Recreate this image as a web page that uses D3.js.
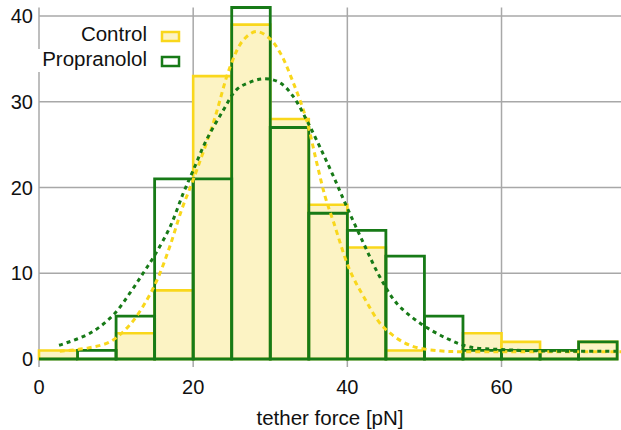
<!DOCTYPE html>
<html>
<head>
<meta charset="utf-8">
<script src="https://cdn.jsdelivr.net/npm/d3@7/dist/d3.min.js"></script>
<style>
  html, body { margin: 0; padding: 0; background: #fff; }
  svg { display: block; }
  text { font-family: "Liberation Sans", Arial, sans-serif; fill: #111; }
</style>
</head>
<body>
<svg id="chart" width="621" height="430"></svg>
<script>
// ---- data ----
const binEdges = [0,5,10,15,20,25,30,35,40,45,50,55,60,65,70,75];
const controlCounts = [1,0,3,8,33,39,28,18,13,1,0,3,2,1,2];
const propranololCounts = [0,1,5,21,21,41,27,17,15,12,5,1,1,1,2];

const controlFitX = [2.7,6.4,9.2,11.8,14.0,15.5,17.0,18.5,20.0,22.6,24.8,26.5,28.2,29.9,31.3,33.0,34.7,36.0,37.1,38.2,40.3,42.1,44.6,48.1,52.0,55.0,60,65,70,75.5];
const controlFitY = [0.9,1.3,2.0,4.0,6.9,9.6,13.2,17.4,20.9,27.5,34.1,37.2,38.2,37.4,35.7,32.2,27.9,23.0,19.0,16.0,10.4,7.3,3.8,1.6,0.95,0.85,0.85,0.85,0.85,0.85];

const propFitX = [2.6,6.6,9.6,11.8,13.5,15.0,17.0,18.7,20.0,21.7,23.9,25.6,27.4,29.3,31.3,33.0,34.7,36.4,38.2,39.9,42.1,44.2,46.4,49.4,52.9,55.9,60,65,70,75.5];
const propFitY = [1.6,3.0,5.1,7.7,10.0,12.1,15.4,19.3,22.0,25.5,29.0,31.4,32.3,32.7,32.2,30.6,27.9,24.8,21.3,17.8,13.5,9.6,6.5,4.2,2.4,1.4,1.1,0.95,0.9,0.9];

const xTicks = [0,20,40,60];
const yTicks = [0,10,20,30,40];
const seriesNames = ["Control","Propranolol"];
const xTitle = "tether force [pN]";

// ---- styles ----
const yellow = "#f9d71c";
const yellowFill = "#fcf3c4";
const green = "#177a17";
const gridColor = "#a8a8a8";

const svg = d3.select("#chart");
const x = d3.scaleLinear().domain([0, 75.5]).range([39, 621]);
const y = d3.scaleLinear().domain([0, 41]).range([359, 7.5]);

// grid
const g = svg.append("g");
g.selectAll("line.h").data(yTicks.filter(d => d > 0)).enter().append("line")
  .attr("x1", x(0)).attr("x2", 621)
  .attr("y1", d => y(d)).attr("y2", d => y(d))
  .attr("stroke", gridColor).attr("stroke-width", 1.5);
g.selectAll("line.v").data(xTicks).enter().append("line")
  .attr("x1", d => x(d)).attr("x2", d => x(d))
  .attr("y1", y(41)).attr("y2", 367)
  .attr("stroke", gridColor).attr("stroke-width", 1.5);

// tick labels
svg.selectAll("text.yt").data(yTicks).enter().append("text")
  .attr("x", 33).attr("y", d => y(d)).attr("dy", "0.36em")
  .attr("text-anchor", "end").attr("font-size", "20px").text(d => d);
svg.selectAll("text.xt").data(xTicks).enter().append("text")
  .attr("x", d => x(d)).attr("y", 394)
  .attr("text-anchor", "middle").attr("font-size", "20px").text(d => d);
svg.append("text").attr("x", 330).attr("y", 425)
  .attr("text-anchor", "middle").attr("font-size", "20.5px").text(xTitle);

function barPath(i, v) {
  const x0 = x(binEdges[i]), x1 = x(binEdges[i+1]), y0 = y(0), y1 = y(v);
  return `M${x0},${y0}V${y1}H${x1}V${y0}Z`;
}

// control bars
svg.append("g").selectAll("path").data(controlCounts).enter().append("path")
  .attr("d", (d, i) => barPath(i, d))
  .attr("fill", yellowFill).attr("stroke", yellow).attr("stroke-width", 2.6);

// propranolol bars
svg.append("g").selectAll("path").data(propranololCounts).enter().append("path")
  .attr("d", (d, i) => barPath(i, d))
  .attr("fill", "none").attr("stroke", green).attr("stroke-width", 2.8);

// fit curves
const line = d3.line().x(d => x(d[0])).y(d => y(d[1])).curve(d3.curveCatmullRom);
svg.append("path").datum(controlFitX.map((v, i) => [v, controlFitY[i]]))
  .attr("d", line).attr("fill", "none").attr("stroke", yellow)
  .attr("stroke-width", 3).attr("stroke-dasharray", "5,4");
svg.append("path").datum(propFitX.map((v, i) => [v, propFitY[i]]))
  .attr("d", line).attr("fill", "none").attr("stroke", green)
  .attr("stroke-width", 3).attr("stroke-dasharray", "4,4");

// legend
svg.append("rect").attr("x", 31).attr("y", 49).attr("width", 117).attr("height", 23).attr("fill", "#fff");
svg.append("text").attr("x", 147).attr("y", 41).attr("text-anchor", "end")
  .attr("font-size", "20.5px").text(seriesNames[0]);
svg.append("text").attr("x", 147).attr("y", 66).attr("text-anchor", "end")
  .attr("font-size", "20.5px").text(seriesNames[1]);
svg.append("rect").attr("x", 162).attr("y", 32).attr("width", 17).attr("height", 9)
  .attr("fill", yellowFill).attr("stroke", yellow).attr("stroke-width", 2.5);
svg.append("rect").attr("x", 162).attr("y", 57).attr("width", 17).attr("height", 9)
  .attr("fill", "#fff").attr("stroke", green).attr("stroke-width", 2.5);
</script>
</body>
</html>
